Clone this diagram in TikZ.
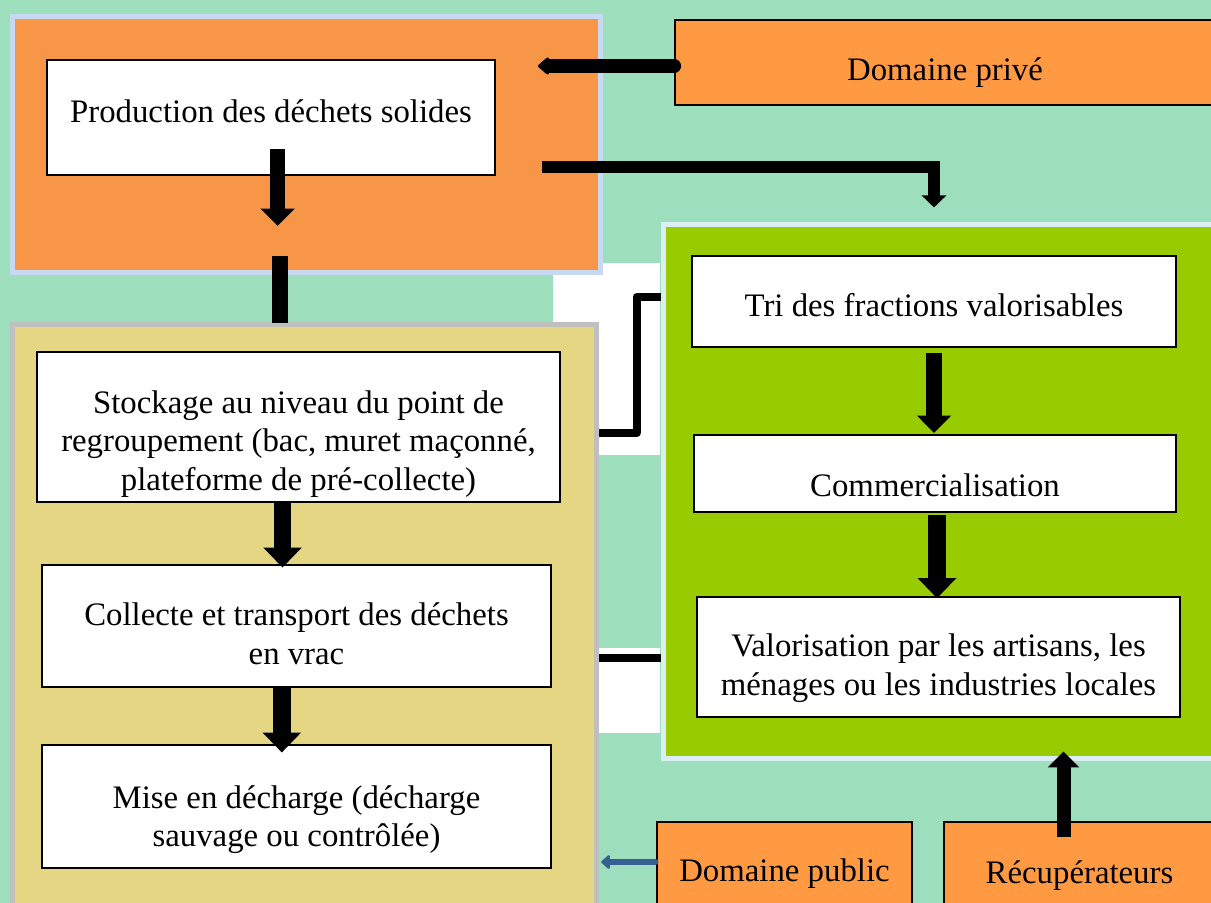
\documentclass[tikz,border=0pt]{standalone}
\usepackage{fontspec}
\setmainfont{Liberation Serif}
\usetikzlibrary{arrows.meta}
\definecolor{menthe}{RGB}{157,223,189}
\definecolor{orangezone}{RGB}{247,150,70}
\definecolor{orangeacteur}{RGB}{255,154,66}
\definecolor{bleuclair}{RGB}{198,217,241}
\definecolor{jaunezone}{RGB}{228,214,130}
\definecolor{grisbord}{RGB}{191,191,191}
\definecolor{vertzone}{RGB}{153,204,0}
\definecolor{bordvert}{RGB}{218,238,243}
\definecolor{bleufleche}{RGB}{55,96,146}

\begin{document}
\begin{tikzpicture}[x=0.75pt, y=-0.75pt,
  zone/.style={line width=3.75pt, inner sep=0pt},
  etape/.style={draw=black, line width=0.8pt, fill=white, inner sep=0pt},
  acteur/.style={etape, fill=orangeacteur},
  texte/.style={align=center, inner sep=0pt, font=\fontsize{24.6}{29}\selectfont},
  fleche/.style={line width=13pt, -{Triangle[width=28pt,length=15pt]}},
  liaison/.style={line width=6pt, line join=round}]
 \path[use as bounding box, clip] (0,0) rectangle (1211,903);
 \fill[menthe] (0,0) rectangle (1211,903);
 \fill[white] (553,263) rectangle (660,455);
 \fill[white] (597,648) rectangle (660,733);

 \node[zone, draw=bleuclair, fill=orangezone, minimum width=441pt, minimum height=192pt] (prodzone) at (306,144) {};
 \node[zone, draw=grisbord, fill=jaunezone, minimum width=438pt, minimum height=443.25pt] (collzone) at (304,619.5) {};
 \node[zone, draw=bordvert, fill=vertzone, minimum width=425.25pt, minimum height=400.5pt] (valzone) at (946.5,491) {};

 \draw[liaison] (collzone.east |- 0,433) -- ++(38,0) |- (valzone.west |- 0,297);
 \draw[liaison] (collzone.east |- 0,658) -- (valzone.west |- 0,658);

 \node[etape, minimum width=336pt, minimum height=86.25pt, label={[texte, yshift=5pt]center:Production des déchets solides}] (prod) at (271,117.5) {};
 \node[acteur, minimum width=405pt, minimum height=63.75pt, label={[texte, yshift=-7.5pt]center:Domaine privé}] (prive) at (945,62.5) {};
 \node[etape, minimum width=392.25pt, minimum height=112.5pt, label={[texte, yshift=-12.75pt]center:{Stockage au niveau du point de\\regroupement (bac, muret maçonné,\\plateforme de pré-collecte)}}] (stock) at (298.5,427) {};
 \node[etape, minimum width=381.75pt, minimum height=91.5pt, label={[texte, yshift=-6pt]center:{Collecte et transport des déchets\\en vrac}}] (coll) at (296.5,626) {};
 \node[etape, minimum width=381.75pt, minimum height=92.25pt, label={[texte, yshift=-9.75pt]center:{Mise en décharge (décharge\\sauvage ou contrôlée)}}] (mise) at (296.5,806.5) {};
 \node[etape, minimum width=363pt, minimum height=68.25pt, label={[texte, yshift=-3pt]center:Tri des fractions valorisables}] (tri) at (934,301.5) {};
 \node[etape, minimum width=361.5pt, minimum height=57.75pt, label={[texte, yshift=-9pt]center:Commercialisation}] (comm) at (935,473.5) {};
 \node[etape, minimum width=362.25pt, minimum height=90pt, label={[texte, yshift=-8.25pt]center:{Valorisation par les artisans, les\\ménages ou les industries locales}}] (val) at (938.5,657) {};
 \node[acteur, minimum width=191.25pt, minimum height=66pt, label={[texte, yshift=-6pt]center:Domaine public}] (public) at (784.5,866) {};
 \node[acteur, minimum width=203.25pt, minimum height=66pt, label={[texte, yshift=-7.5pt]center:Récupérateurs}] (recup) at (1079.5,866) {};

 \coordinate (privfin) at (538,66);
 \coordinate (valdep) at (542,167);
 \draw[line width=10pt, line cap=round, -{Triangle[round,width=15pt,length=9pt]}] (prive.west |- privfin) -- (privfin);
 \draw[line width=9pt, -{Triangle[width=18pt,length=9pt]}] (valdep) -| ([yshift=36pt]tri.north);
 \draw[fleche, line width=11pt, -{Triangle[width=25pt,length=13pt]}] ([xshift=5pt,yshift=20pt]prod.south) -- ++(0,77);
 \draw[line width=12pt] ([xshift=-19.5pt,yshift=14pt]prodzone.south) -- ++(0,67);
 \draw[fleche] ([xshift=-12pt]stock.south) -- ++(0,65);
 \draw[fleche] ([xshift=-11pt]coll.south) -- ++(0,65);
 \draw[fleche, line width=12pt, -{Triangle[width=25pt,length=13pt]}] ([yshift=-4pt]tri.south) -- ++(0,80);
 \draw[fleche] ([xshift=1.5pt,yshift=-2pt]comm.south) -- ++(0,83);
 \draw[fleche, line width=10.5pt, -{Triangle[width=23pt,length=12pt]}] ([xshift=-12pt,yshift=-12pt]recup.north) -- ++(0,-86);
 \draw[bleufleche, line width=5pt, line cap=round, -{Triangle[round,width=12pt,length=7pt]}] ([xshift=-1pt,yshift=3pt]public.west) -- ([xshift=2pt,yshift=3pt]collzone.east |- public.west);
\end{tikzpicture}
\end{document}
